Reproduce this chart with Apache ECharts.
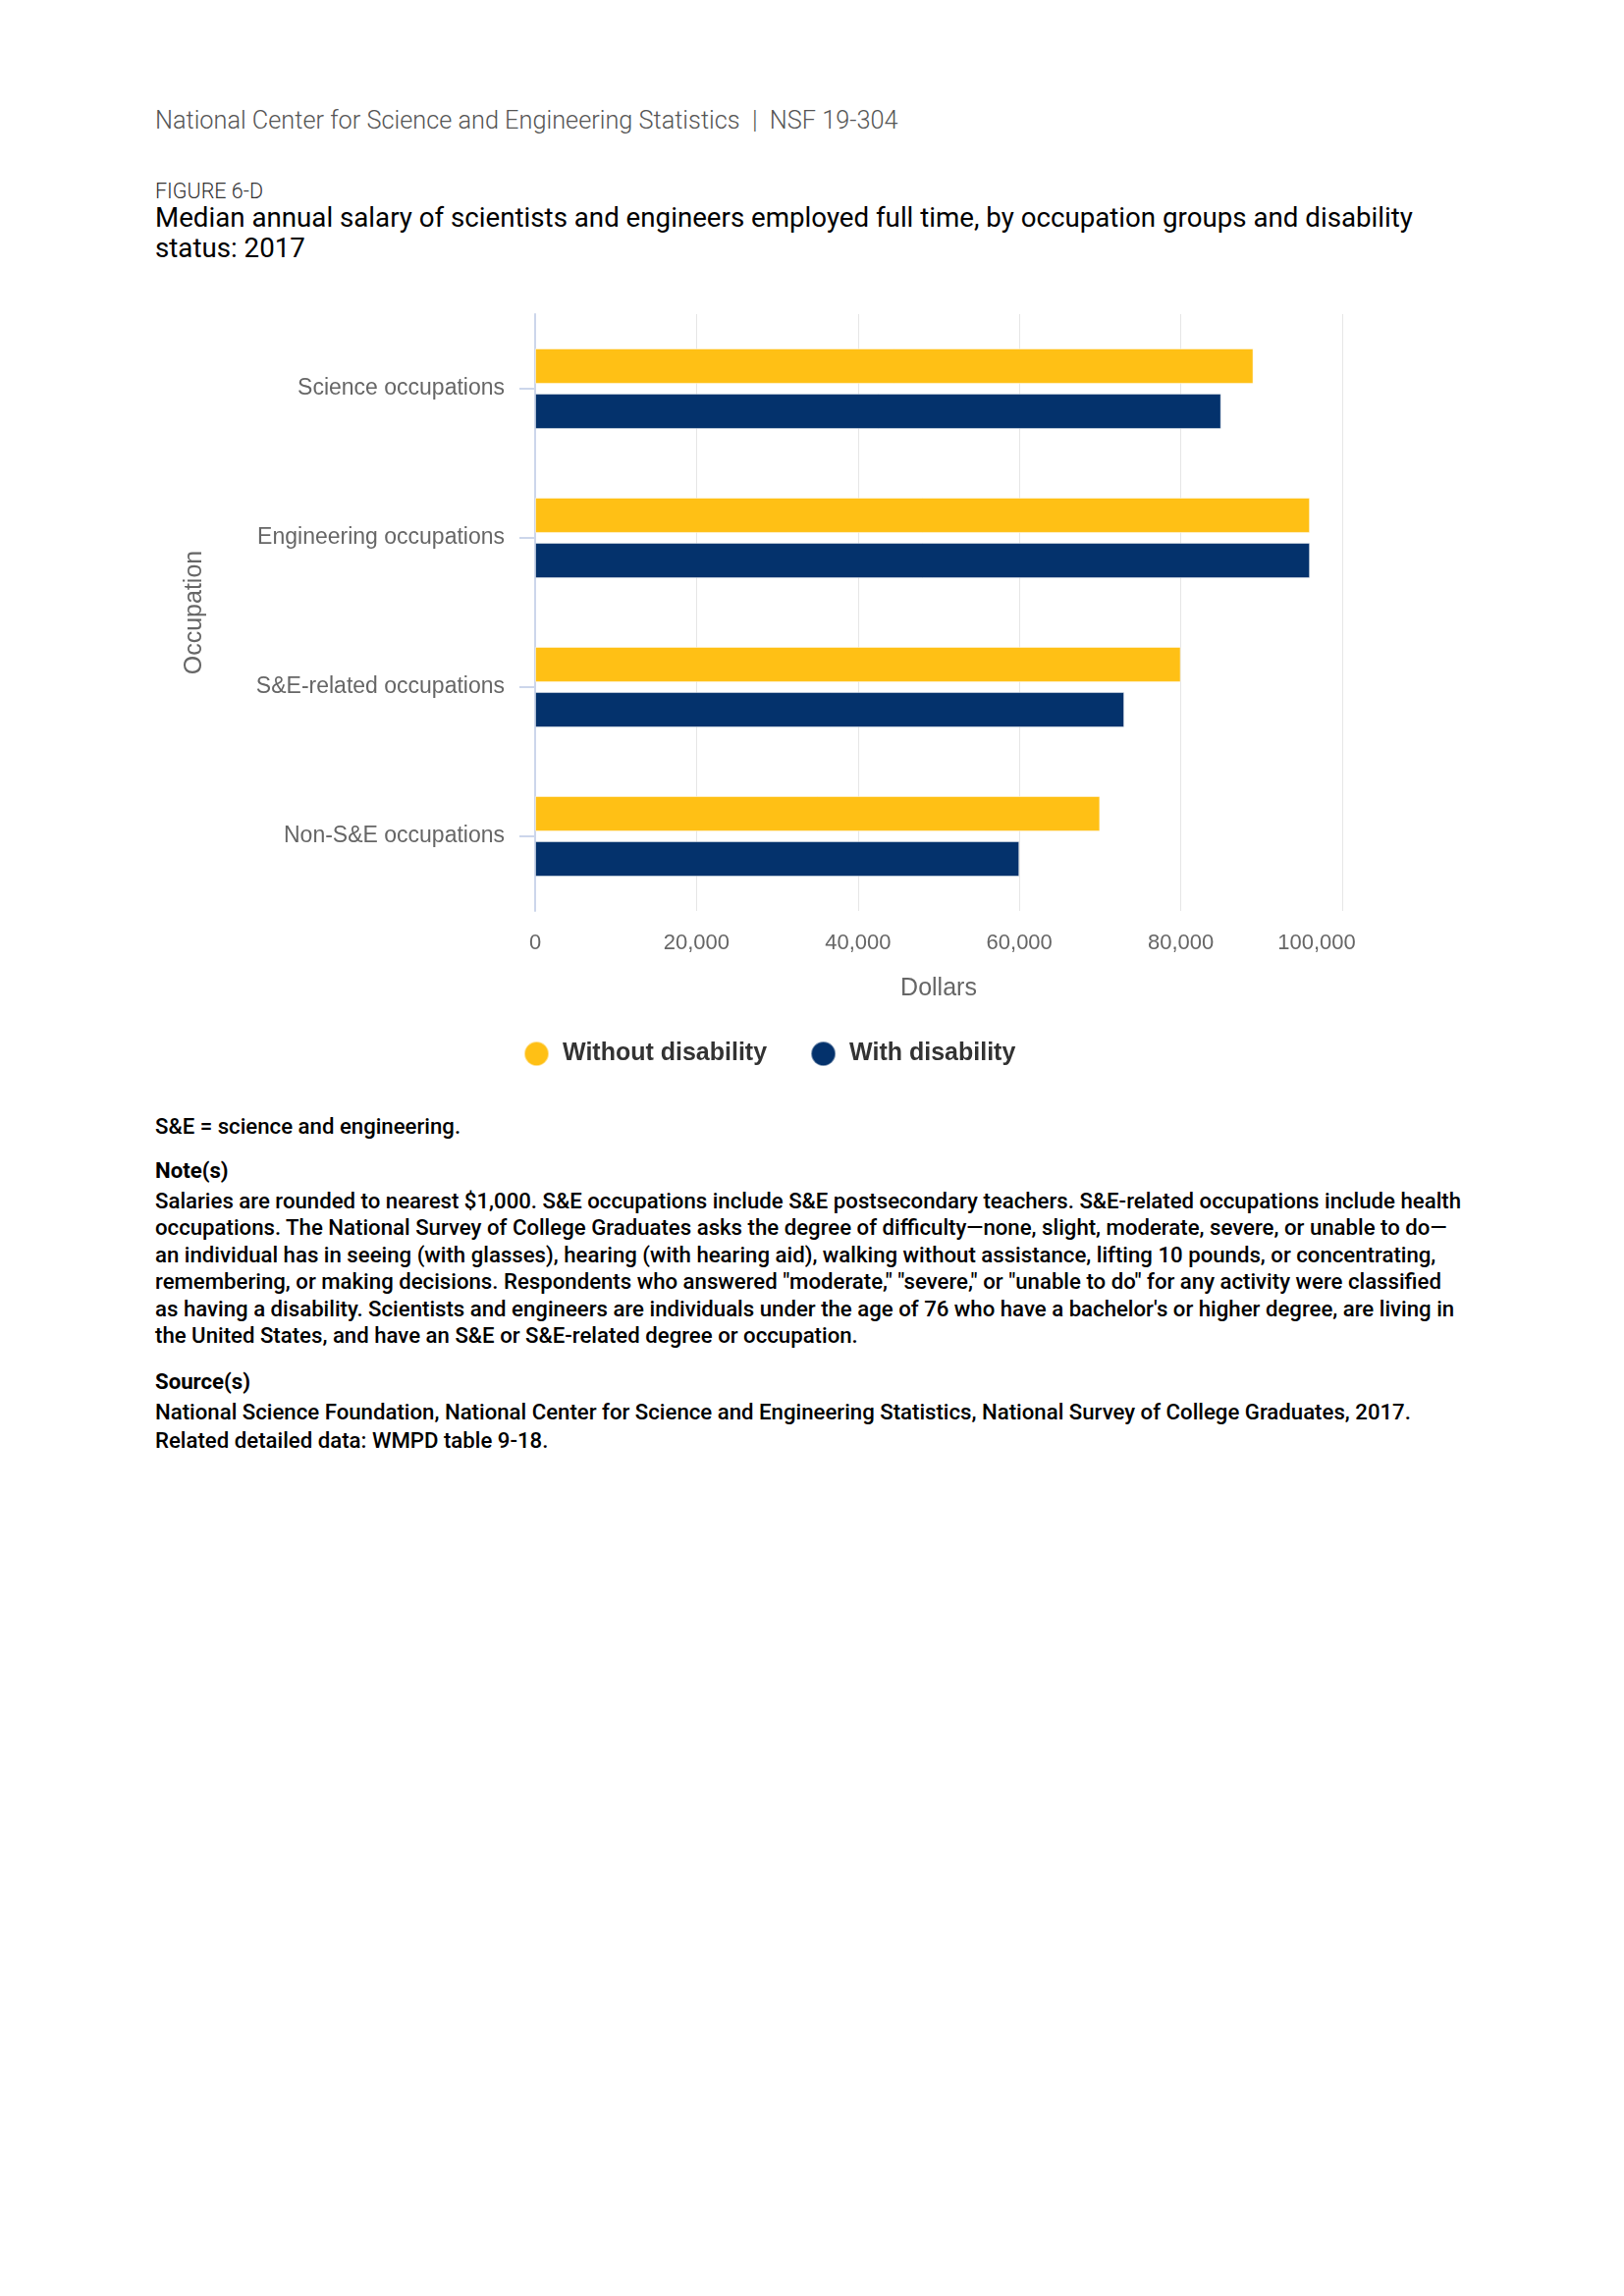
<!DOCTYPE html>
<html>
<head>
<meta charset="utf-8">
<script src="https://cdn.jsdelivr.net/npm/echarts@6/dist/echarts.min.js"></script>
<style>
  html, body { margin:0; padding:0; background:#fff; width:1654px; height:2339px; position:relative; overflow:hidden; }
  .t { position:absolute; left:158px; white-space:nowrap; font-family:Roboto, "Liberation Sans", sans-serif; }
  #chart { position:absolute; left:0; top:0; width:1654px; height:1110px; }
</style>
</head>
<body>
<div class="t" style="top:107px;font-size:25.3px;line-height:32px;font-weight:300;color:#555;">National Center for Science and Engineering Statistics &nbsp;|&nbsp; NSF 19-304</div>
<div class="t" style="top:180px;font-size:21.5px;line-height:30px;font-weight:300;color:#333;">FIGURE 6-D</div>
<div class="t" style="top:207px;font-size:27.7px;line-height:30.5px;font-weight:400;color:#000;">Median annual salary of scientists and engineers employed full time, by occupation groups and disability<br>status: 2017</div>
<div id="chart"></div>
<div class="t" style="top:1133px;font-size:22.2px;line-height:28px;font-weight:500;color:#000;">S&amp;E = science and engineering.</div>
<div class="t" style="top:1178px;font-size:22.2px;line-height:28px;font-weight:700;color:#000;">Note(s)</div>
<div class="t" style="top:1209.5px;font-size:22.2px;line-height:27.6px;font-weight:500;color:#000;">Salaries are rounded to nearest $1,000. S&amp;E occupations include S&amp;E postsecondary teachers. S&amp;E-related occupations include health<br>occupations. The National Survey of College Graduates asks the degree of difficulty—none, slight, moderate, severe, or unable to do—<br>an individual has in seeing (with glasses), hearing (with hearing aid), walking without assistance, lifting 10 pounds, or concentrating,<br>remembering, or making decisions. Respondents who answered "moderate," "severe," or "unable to do" for any activity were classified<br>as having a disability. Scientists and engineers are individuals under the age of 76 who have a bachelor's or higher degree, are living in<br>the United States, and have an S&amp;E or S&amp;E-related degree or occupation.</div>
<div class="t" style="top:1392.7px;font-size:22.2px;line-height:28px;font-weight:700;color:#000;">Source(s)</div>
<div class="t" style="top:1424px;font-size:22.2px;line-height:28.7px;font-weight:500;color:#000;">National Science Foundation, National Center for Science and Engineering Statistics, National Survey of College Graduates, 2017.<br>Related detailed data: WMPD table 9-18.</div>
<script>
const categories = ["Science occupations", "Engineering occupations", "S&E-related occupations", "Non-S&E occupations"];
const withoutDisability = [89000, 96000, 80000, 70000];
const withDisability = [85000, 96000, 73000, 60000];
const seriesNames = ["Without disability", "With disability"];
const xTicks = { min: 0, max: 100000, interval: 20000 };

const FONT = '"Liberation Sans", Arial, sans-serif';
const chart = echarts.init(document.getElementById('chart'), null, { renderer: 'canvas' });
chart.setOption({
  animation: false,
  backgroundColor: 'transparent',
  grid: { left: 545, right: 287, top: 320, height: 608, containLabel: false },
  legend: {
    left: 528, top: 1055,
    icon: 'circle', itemWidth: 25, itemHeight: 25, itemGap: 44,
    selectedMode: false,
    textStyle: { fontFamily: FONT, fontSize: 25, fontWeight: 'bold', color: '#333', padding: [0, 0, 0, 9] },
    data: seriesNames
  },
  xAxis: {
    type: 'value', min: xTicks.min, max: xTicks.max, interval: xTicks.interval,
    name: 'Dollars', nameLocation: 'middle', nameGap: 67,
    nameTextStyle: { fontFamily: FONT, fontSize: 25, color: '#666' },
    axisLine: { show: false }, axisTick: { show: false },
    splitLine: { show: true, lineStyle: { color: '#e6e6e6', width: 1 } },
    axisLabel: {
      fontFamily: FONT, fontSize: 22, color: '#666', margin: 22,
      formatter: function (v) {
        const s = v.toLocaleString('en-US');
        return v === xTicks.max ? '{last|' + s + '}' : s;
      },
      rich: { last: { fontFamily: FONT, fontSize: 22, color: '#666', padding: [0, 52, 0, 0] } }
    }
  },
  yAxis: {
    type: 'category', data: categories, inverse: true,
    name: 'Occupation', nameLocation: 'middle', nameGap: 334,
    nameTextStyle: { fontFamily: FONT, fontSize: 25, color: '#666' },
    axisLine: { show: true, lineStyle: { color: '#ccd6eb', width: 2 } },
    axisTick: { show: true, alignWithLabel: true, length: 16, lineStyle: { color: '#ccd6eb', width: 2 } },
    axisLabel: { fontFamily: FONT, fontSize: 23, color: '#666', margin: 31, padding: [13, 0, 0, 0] },
    splitLine: { show: false }
  },
  series: [
    {
      name: seriesNames[0], type: 'bar', data: withoutDisability,
      barWidth: 36, barGap: '28%',
      itemStyle: { color: '#FFC015', borderColor: 'rgba(255,255,255,0.5)', borderWidth: 1 }
    },
    {
      name: seriesNames[1], type: 'bar', data: withDisability,
      barWidth: 36, barGap: '28%',
      itemStyle: { color: '#04326C', borderColor: 'rgba(255,255,255,0.45)', borderWidth: 1 }
    }
  ]
});
</script>
</body>
</html>
